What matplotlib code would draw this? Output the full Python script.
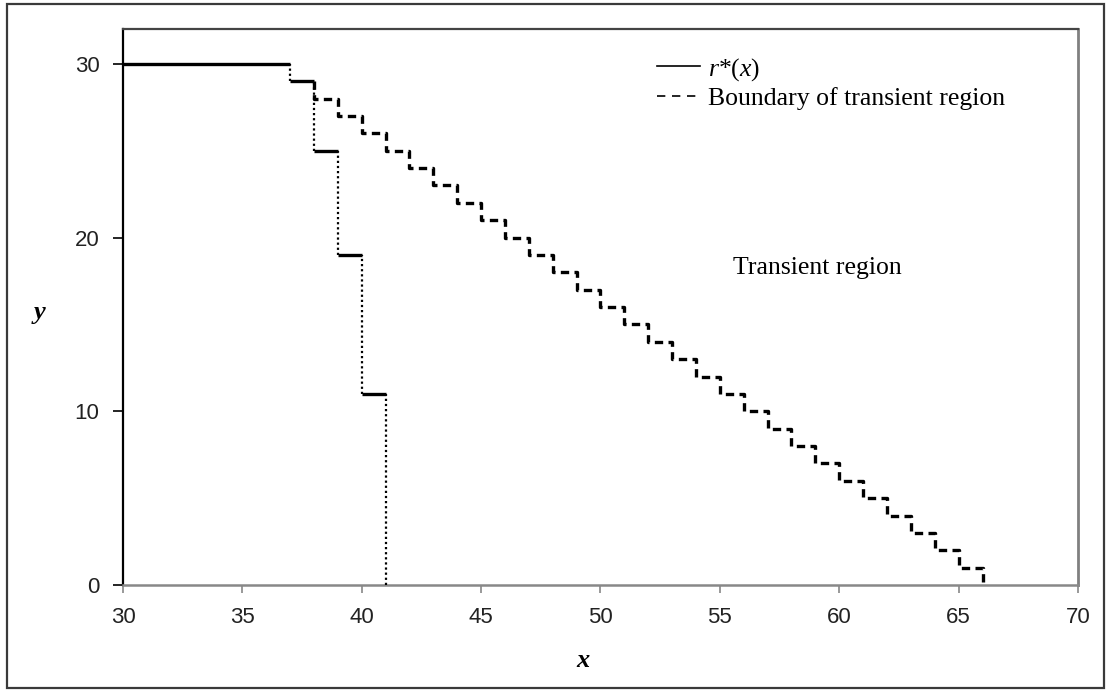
import matplotlib
matplotlib.use("Agg")
import matplotlib.pyplot as plt
from matplotlib.lines import Line2D
from matplotlib.patches import Rectangle

plt.rcParams['font.family'] = ['Liberation Serif', 'DejaVu Serif']
plt.rcParams['mathtext.fontset'] = 'custom'
plt.rcParams['mathtext.rm'] = 'Liberation Serif'
plt.rcParams['mathtext.it'] = 'Liberation Serif:italic'

# r*(x): horizontal steps between edges
r_edges = [30, 37, 38, 39, 40, 41]
r_levels = [30, 29, 25, 19, 11]

# boundary of the transient region (steps-post points)
b_x = [38, 38, 39, 40, 41, 42, 43, 44, 45, 46, 47, 48, 49, 50, 51, 52,
       53, 54, 55, 56, 57, 58, 59, 60, 61, 62, 63, 64, 65, 66]
b_y = [29, 28, 27, 26, 25, 24, 23, 22, 21, 20, 19, 18, 17, 16, 15, 14,
       13, 12, 11, 10, 9, 8, 7, 6, 5, 4, 3, 2, 1, 0]

x_ticks = [30, 35, 40, 45, 50, 55, 60, 65, 70]
y_ticks = [0, 10, 20, 30]

fig = plt.figure(figsize=(11.11, 6.91), dpi=100)
ax = fig.add_axes([0.1107, 0.1534, 0.9703 - 0.1107, 0.958 - 0.1534])

# boundary, dashed
ax.plot(b_x, b_y, drawstyle='steps-post', color='black', lw=2.4,
        linestyle=(0, (2.5, 1.6)), zorder=2)

# r*(x): solid horizontals, dotted drops
ax.hlines(r_levels, r_edges[:-1], r_edges[1:], color='black', lw=2.4, zorder=3)
lower = r_levels[1:] + [0]
ax.vlines(r_edges[1:], lower, r_levels, color='black', lw=1.6,
          linestyle=(0, (1, 1.3)), zorder=3)

ax.set_xlim(30, 70)
ax.set_ylim(0, 32)
ax.set_xticks(x_ticks)
ax.set_yticks(y_ticks)

for lab in ax.get_xticklabels() + ax.get_yticklabels():
    lab.set_fontfamily('Liberation Sans')
    lab.set_fontsize(16)
    lab.set_color('#222222')

ax.tick_params(axis='y', direction='out', length=7, width=1.2, color='black', pad=10)
ax.tick_params(axis='x', direction='out', length=6, width=1.2, color='#888888', pad=10)

ax.spines['left'].set_color('black')
ax.spines['left'].set_linewidth(1.6)
ax.spines['top'].set_color('#444444')
ax.spines['top'].set_linewidth(1.6)
ax.spines['right'].set_color('#808080')
ax.spines['right'].set_linewidth(2)
ax.spines['bottom'].set_color('#888888')
ax.spines['bottom'].set_linewidth(1.8)

ax.text(0.482, -0.135, 'x', transform=ax.transAxes, fontsize=19,
        fontweight='bold', fontstyle='italic', ha='center', va='center')
ax.text(-0.087, 0.491, 'y', transform=ax.transAxes, fontsize=19,
        fontweight='bold', fontstyle='italic', ha='center', va='center')

ax.text(55.55, 18.25, 'Transient region', fontsize=18.5, ha='left', va='center')

handles = [Line2D([], [], color='black', lw=1.2),
           Line2D([], [], color='black', lw=1.2, linestyle=(0, (5, 4)))]
ax.legend(handles, [r'$r$*$(x)$', 'Boundary of transient region'],
          loc='upper left', bbox_to_anchor=(0.54, 0.984), frameon=False,
          fontsize=18.5, handlelength=1.7, handletextpad=0.3,
          labelspacing=0.15, borderpad=0.2)

fig.patches.append(Rectangle((0.0063, 0.0043), 0.987, 0.99, transform=fig.transFigure,
                             fill=False, edgecolor='#3a3a3a', lw=1.6))

fig.savefig('out.png', dpi=100)
